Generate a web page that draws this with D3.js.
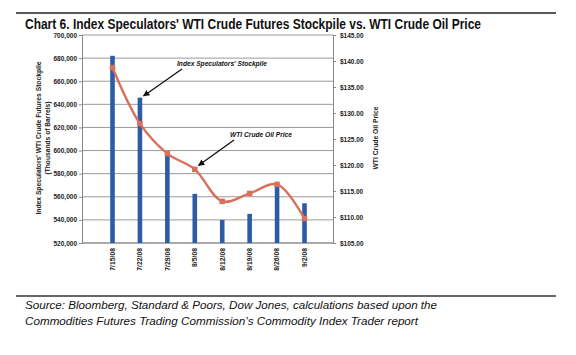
<!DOCTYPE html>
<html><head><meta charset="utf-8">
<script src="https://cdn.jsdelivr.net/npm/d3@7"></script>
<style>
html,body{margin:0;padding:0;background:#fff;}
svg{display:block;font-family:Arial,"Liberation Sans",Helvetica,sans-serif;}
</style></head>
<body>
<svg id="c" width="576" height="355"></svg>
<script>
const dates = ["7/15/08","7/22/08","7/29/08","8/5/08","8/12/08","8/19/08","8/26/08","9/2/08"];
const stockpile = [682000, 645800, 596500, 562500, 540000, 545200, 569000, 554400];
const price = [138.74, 127.95, 122.19, 119.17, 113.01, 114.53, 116.27, 109.71];
const leftTicks = [520000,540000,560000,580000,600000,620000,640000,660000,680000,700000];
const rightTicks = [105,110,115,120,125,130,135,140,145];

const svg = d3.select("#c");
const L = 82, R = 333, T = 35, B = 243;

const x = d3.scalePoint().domain(dates).range([112.5, 304.5]);
const yL = d3.scaleLinear().domain([520000,700000]).range([B,T]);
const yR = d3.scaleLinear().domain([105,145]).range([B,T]);

// rules
svg.append("line").attr("x1",16).attr("x2",556).attr("y1",13).attr("y2",13).attr("stroke","#222").attr("stroke-width",1.3);
svg.append("line").attr("x1",16).attr("x2",556).attr("y1",296).attr("y2",296).attr("stroke","#666").attr("stroke-width",2);

// title
svg.append("text").attr("x",25).attr("y",29).attr("font-size",14).attr("font-weight","bold")
  .attr("textLength",456).attr("lengthAdjust","spacingAndGlyphs").attr("fill","#111")
  .text("Chart 6. Index Speculators' WTI Crude Futures Stockpile vs. WTI Crude Oil Price");

// gridlines
svg.append("g").selectAll("line").data(leftTicks).join("line")
  .attr("x1",L).attr("x2",R).attr("y1",d=>yL(d)).attr("y2",d=>yL(d))
  .attr("stroke","#9a9a9a").attr("stroke-width",1);

// left axis
const gl = svg.append("g").attr("transform",`translate(${L},0)`)
  .call(d3.axisLeft(yL).tickValues(leftTicks).tickFormat(d3.format(",")).tickSize(3).tickPadding(2));
gl.select(".domain").attr("stroke","#888");
gl.selectAll(".tick line").attr("stroke","#888");
gl.selectAll("text").attr("font-size",6.5).attr("font-weight","bold").attr("fill","#222").attr("font-family","Arial,'Liberation Sans',sans-serif");

// right axis
const gr = svg.append("g").attr("transform",`translate(${R},0)`)
  .call(d3.axisRight(yR).tickValues(rightTicks).tickFormat(d=>"$"+d.toFixed(2)).tickSize(3).tickPadding(4));
gr.select(".domain").attr("stroke","#888");
gr.selectAll(".tick line").attr("stroke","#888");
gr.selectAll("text").attr("font-size",6.5).attr("font-weight","bold").attr("fill","#222").attr("font-family","Arial,'Liberation Sans',sans-serif");

// bottom axis line
svg.append("line").attr("x1",L).attr("x2",R).attr("y1",B).attr("y2",B).attr("stroke","#888");

// bars
const bw = 4.6;
svg.append("g").selectAll("rect").data(dates).join("rect")
  .attr("x",(d)=>x(d)-bw/2).attr("width",bw)
  .attr("y",(d,i)=>yL(stockpile[i])).attr("height",(d,i)=>B-yL(stockpile[i]))
  .attr("fill","#2d5ba6");

// x labels
svg.append("g").selectAll("text").data(dates).join("text")
  .attr("transform",d=>`translate(${x(d)+2.3},248) rotate(-90)`)
  .attr("text-anchor","end").attr("font-size",6.8).attr("font-weight","bold").attr("fill","#222")
  .text(d=>d);

// price line
const line = d3.line().x((d,i)=>x(dates[i])).y(d=>yR(d)).curve(d3.curveCatmullRom.alpha(0.5));
svg.append("path").datum(price).attr("d",line).attr("fill","none")
  .attr("stroke","#d8705c").attr("stroke-width",2.4);
const ms = 5.5;
svg.append("g").selectAll("rect").data(price).join("rect")
  .attr("x",(d,i)=>x(dates[i])-ms/2).attr("y",d=>yR(d)-ms/2).attr("width",ms).attr("height",ms)
  .attr("fill","#d8705c");

// axis titles
svg.append("text").attr("transform","translate(41,138) rotate(-90)").attr("text-anchor","middle")
  .attr("font-size",6.3).attr("font-weight","bold").attr("fill","#222")
  .attr("textLength",153).attr("lengthAdjust","spacingAndGlyphs")
  .text("Index Speculators' WTI Crude Futures Stockpile");
svg.append("text").attr("transform","translate(49.5,138) rotate(-90)").attr("text-anchor","middle")
  .attr("font-size",6.3).attr("font-weight","bold").attr("fill","#222")
  .attr("textLength",73).attr("lengthAdjust","spacingAndGlyphs")
  .text("(Thousands of Barrels)");
svg.append("text").attr("transform","translate(378,138) rotate(-90)").attr("text-anchor","middle")
  .attr("font-size",6.3).attr("font-weight","bold").attr("fill","#222")
  .attr("textLength",63).attr("lengthAdjust","spacingAndGlyphs")
  .text("WTI Crude Oil Price");

// annotations
const defs = svg.append("defs");
defs.append("marker").attr("id","ah").attr("viewBox","0 0 10 10").attr("refX",9).attr("refY",5)
  .attr("markerWidth",5).attr("markerHeight",5).attr("orient","auto")
  .append("path").attr("d","M0,0L10,5L0,10z").attr("fill","#111");
svg.append("text").attr("x",177).attr("y",65.5).attr("font-size",6.5).attr("font-weight","bold").attr("font-style","italic")
  .attr("fill","#111").attr("textLength",90).attr("lengthAdjust","spacingAndGlyphs").text("Index Speculators' Stockpile");
svg.append("line").attr("x1",182).attr("y1",69).attr("x2",143.5).attr("y2",96)
  .attr("stroke","#111").attr("stroke-width",1.3).attr("marker-end","url(#ah)");
svg.append("text").attr("x",230).attr("y",136.5).attr("font-size",6.5).attr("font-weight","bold").attr("font-style","italic")
  .attr("fill","#111").attr("textLength",62).attr("lengthAdjust","spacingAndGlyphs").text("WTI Crude Oil Price");
svg.append("line").attr("x1",234).attr("y1",140).attr("x2",198.5).attr("y2",165.5)
  .attr("stroke","#111").attr("stroke-width",1.3).attr("marker-end","url(#ah)");

// source
svg.append("text").attr("x",25).attr("y",308.5).attr("font-size",11).attr("font-style","italic").attr("fill","#111")
  .attr("textLength",412).attr("lengthAdjust","spacingAndGlyphs")
  .text("Source: Bloomberg, Standard & Poors, Dow Jones, calculations based upon the");
svg.append("text").attr("x",25).attr("y",325).attr("font-size",11).attr("font-style","italic").attr("fill","#111")
  .attr("textLength",393).attr("lengthAdjust","spacingAndGlyphs")
  .text("Commodities Futures Trading Commission\u2019s Commodity Index Trader report");
</script>
</body></html>
